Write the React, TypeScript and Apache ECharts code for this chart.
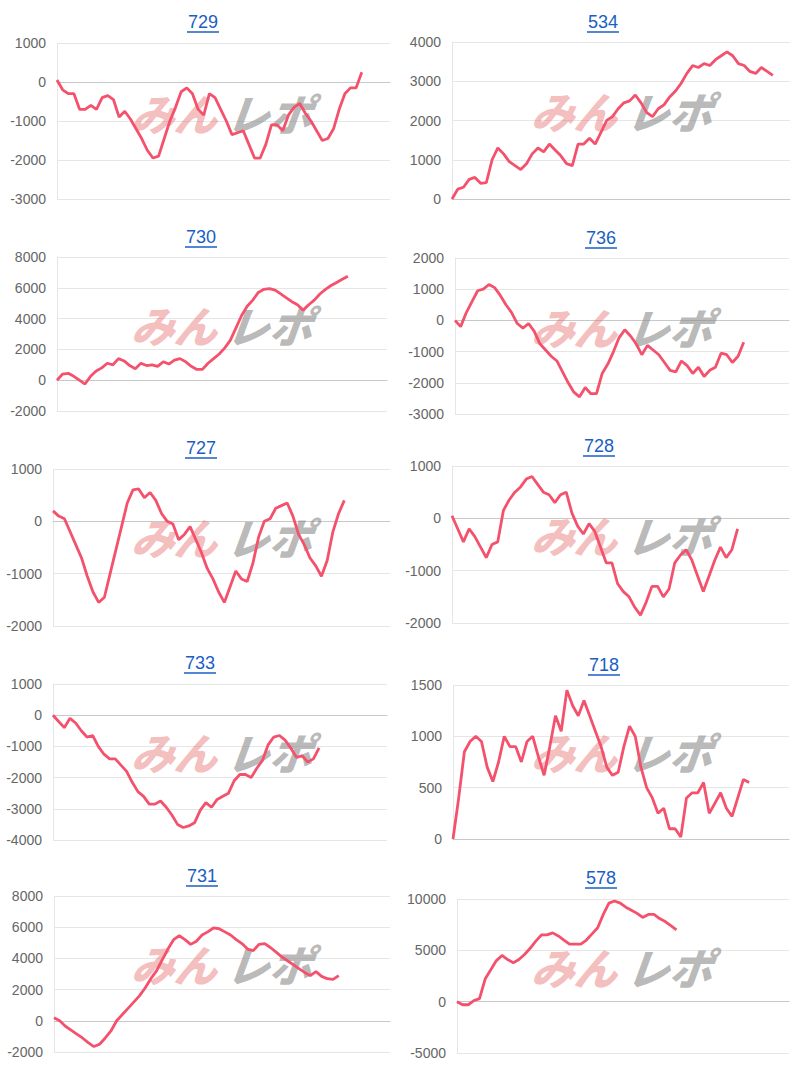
import React, { useEffect, useRef } from "react";
import * as echarts from "echarts";

// ---- data ----
const TOTAL_POINTS = 60;
const xCategories = Array.from({ length: TOTAL_POINTS }, (_, i) => `${i + 1}`);

const titles = ["729", "534", "730", "736", "727", "728", "733", "718", "731", "578"];

const s729 = [50, -200, -300, -300, -700, -700, -600, -700, -400, -350, -450, -900, -750, -950, -1200, -1450, -1750, -1950, -1900, -1450, -1000, -650, -250, -150, -300, -700, -850, -300, -400, -700, -1000, -1350, -1300, -1250, -1600, -1950, -1950, -1600, -1100, -1100, -1250, -850, -650, -550, -800, -1000, -1250, -1500, -1450, -1200, -700, -300, -150, -150, 250];
const s534 = [0, 250, 300, 500, 550, 400, 420, 1000, 1300, 1150, 950, 850, 750, 900, 1150, 1300, 1200, 1400, 1250, 1100, 900, 850, 1400, 1400, 1550, 1400, 1700, 2000, 2100, 2300, 2450, 2500, 2650, 2450, 2200, 2100, 2300, 2400, 2600, 2750, 2950, 3200, 3400, 3350, 3450, 3400, 3550, 3650, 3750, 3650, 3450, 3400, 3250, 3200, 3350, 3250, 3150];
const s730 = [0, 400, 450, 250, 0, -250, 250, 600, 800, 1100, 1000, 1400, 1250, 950, 750, 1100, 950, 1000, 900, 1200, 1050, 1300, 1400, 1200, 900, 700, 700, 1100, 1400, 1700, 2100, 2600, 3400, 4200, 4800, 5200, 5700, 5900, 5950, 5850, 5600, 5350, 5100, 4900, 4550, 4900, 5200, 5600, 5900, 6150, 6350, 6550, 6750];
const s736 = [0, -200, 250, 600, 950, 1000, 1150, 1050, 800, 500, 250, -100, -250, -100, -350, -750, -950, -1150, -1300, -1650, -2000, -2300, -2450, -2150, -2350, -2350, -1700, -1400, -1000, -550, -300, -500, -750, -1100, -800, -950, -1100, -1350, -1600, -1650, -1300, -1450, -1700, -1500, -1800, -1600, -1500, -1050, -1100, -1350, -1150, -700];
const s727 = [200, 100, 50, -200, -450, -700, -1050, -1350, -1550, -1450, -1000, -550, -100, 350, 600, 620, 450, 550, 400, 150, 0, -50, -350, -250, -100, -350, -600, -900, -1100, -1350, -1550, -1250, -950, -1100, -1150, -800, -300, 0, 50, 250, 300, 350, 100, -250, -450, -700, -850, -1050, -750, -200, 150, 400];
const s728 = [50, -200, -450, -200, -350, -550, -750, -500, -450, 150, 350, 500, 600, 750, 800, 650, 500, 450, 300, 450, 500, 100, -150, -300, -100, -250, -550, -850, -850, -1250, -1400, -1500, -1700, -1850, -1600, -1300, -1300, -1500, -1350, -850, -700, -600, -800, -1100, -1400, -1100, -800, -550, -750, -600, -200];
const s733 = [0, -200, -400, -100, -250, -500, -700, -650, -1000, -1250, -1400, -1400, -1600, -1800, -2150, -2450, -2600, -2850, -2850, -2750, -2950, -3200, -3500, -3600, -3550, -3450, -3050, -2800, -2950, -2700, -2600, -2500, -2100, -1900, -1900, -2000, -1700, -1450, -950, -700, -650, -800, -1050, -1350, -1300, -1500, -1400, -1050];
const s718 = [0, 400, 850, 950, 1000, 950, 700, 560, 750, 1000, 900, 900, 750, 950, 1000, 800, 620, 900, 1200, 1050, 1450, 1300, 1200, 1350, 1200, 1050, 900, 700, 620, 650, 900, 1100, 1000, 700, 500, 400, 250, 300, 100, 100, 20, 400, 450, 450, 550, 250, 350, 450, 300, 220, 400, 580, 550];
const s731 = [200, 0, -350, -600, -850, -1100, -1400, -1650, -1500, -1100, -650, 0, 400, 800, 1200, 1600, 2100, 2700, 3200, 3900, 4600, 5200, 5450, 5200, 4900, 5100, 5500, 5700, 5950, 5900, 5700, 5500, 5200, 4950, 4600, 4500, 4900, 4950, 4700, 4400, 4100, 3850, 3600, 3350, 3100, 2900, 3150, 2850, 2700, 2650, 2900];
const s578 = [0, -300, -300, 100, 300, 2200, 3100, 4000, 4500, 4100, 3800, 4100, 4600, 5200, 5900, 6500, 6500, 6700, 6400, 6000, 5600, 5600, 5600, 6000, 6600, 7200, 8500, 9600, 9800, 9600, 9200, 8900, 8600, 8200, 8500, 8500, 8100, 7800, 7400, 7000];

const seriesValues = [s729, s534, s730, s736, s727, s728, s733, s718, s731, s578];

// y axis ranges and tick steps
const yMins = [-3000, 0, -2000, -3000, -2000, -2000, -4000, 0, -2000, -5000];
const yMaxs = [1000, 4000, 8000, 2000, 1000, 1000, 1000, 1500, 8000, 10000];
const yIntervals = [1000, 1000, 2000, 1000, 1000, 1000, 1000, 500, 2000, 5000];

// ---- layout (pixels) ----
const layout = [
  { left: 57, right: 390, top: 43, bottom: 199, tx: 203, ty: 22, wy: 112 },
  { left: 452, right: 790, top: 42, bottom: 199, tx: 603, ty: 22, wy: 110 },
  { left: 57, right: 387, top: 257, bottom: 411, tx: 201, ty: 237, wy: 324 },
  { left: 455, right: 789, top: 258, bottom: 414, tx: 601, ty: 238, wy: 326 },
  { left: 53, right: 390, top: 469, bottom: 626, tx: 201, ty: 448, wy: 536 },
  { left: 452, right: 789, top: 466, bottom: 623, tx: 599, ty: 446, wy: 534 },
  { left: 53, right: 387, top: 684, bottom: 840, tx: 200, ty: 663, wy: 751 },
  { left: 453, right: 789, top: 685, bottom: 839, tx: 604, ty: 665, wy: 751 },
  { left: 54, right: 390, top: 896, bottom: 1052, tx: 202, ty: 876, wy: 963 },
  { left: 457, right: 789, top: 899, bottom: 1053, tx: 601, ty: 878, wy: 966 },
];

const LINE_COLOR = "#f4516c";
const TITLE_COLOR = "#1a5ec5";
const GRID_COLOR = "#e6e6e6";
const LABEL_FONT = "'Liberation Sans', Arial, Helvetica, sans-serif";

export default function App() {
  const ref = useRef<HTMLDivElement>(null);

  useEffect(() => {
    if (!ref.current) return;
    const chart = echarts.init(ref.current, undefined, { renderer: "svg" });

    const grids = layout.map((l) => ({
      left: l.left,
      top: l.top,
      width: l.right - l.left,
      height: l.bottom - l.top,
      outerBoundsMode: "none",
      containLabel: false,
    }));

    const xAxes = layout.map((_, i) => ({
      type: "category",
      gridIndex: i,
      data: xCategories,
      boundaryGap: false,
      axisLine: { show: true, onZero: true, lineStyle: { color: "#c8c8c8", width: 1 } },
      axisTick: { show: false },
      axisLabel: { show: false },
      splitLine: { show: false },
    }));

    const yAxes = layout.map((_, i) => ({
      type: "value",
      gridIndex: i,
      min: yMins[i],
      max: yMaxs[i],
      interval: yIntervals[i],
      axisLine: { show: true, lineStyle: { color: GRID_COLOR, width: 1 } },
      axisTick: { show: false },
      splitLine: { show: true, lineStyle: { color: GRID_COLOR, width: 1 } },
      axisLabel: {
        color: "#666666",
        fontSize: 14,
        fontFamily: LABEL_FONT,
        margin: 11,
        formatter: (v: number) => String(v),
      },
    }));

    const series = seriesValues.map((vals, i) => ({
      type: "line",
      xAxisIndex: i,
      yAxisIndex: i,
      data: vals,
      symbol: "none",
      smooth: false,
      z: 5,
      lineStyle: { color: LINE_COLOR, width: 2.8 },
      silent: true,
    }));

    const graphics: any[] = [];
    layout.forEach((l, i) => {
      const px = l.left < 400 ? 0 : 400;
      // watermark
      graphics.push({
        type: "text",
        x: px + 180,
        y: l.wy,
        z: 1,
        skewX: -0.35,
        silent: true,
        style: {
          text: "みん",
          fill: "rgba(232,110,110,0.45)",
          font: "900 43px 'Noto Sans CJK JP'",
          textAlign: "center",
          textVerticalAlign: "middle",
          align: "center",
          verticalAlign: "middle",
        },
      });
      graphics.push({
        type: "text",
        x: px + 275,
        y: l.wy,
        z: 1,
        skewX: -0.35,
        silent: true,
        style: {
          text: "レポ",
          fill: "rgba(140,140,140,0.6)",
          font: "900 43px 'Noto Sans CJK JP'",
          textAlign: "center",
          textVerticalAlign: "middle",
          align: "center",
          verticalAlign: "middle",
        },
      });
      // title
      graphics.push({
        type: "text",
        x: l.tx,
        y: l.ty,
        z: 10,
        style: {
          text: titles[i],
          fill: TITLE_COLOR,
          font: `18px ${LABEL_FONT}`,
          textAlign: "center",
          textVerticalAlign: "middle",
          align: "center",
          verticalAlign: "middle",
        },
      });
      graphics.push({
        type: "line",
        z: 10,
        shape: { x1: l.tx - 16, y1: l.ty + 10, x2: l.tx + 16, y2: l.ty + 10 },
        style: { stroke: TITLE_COLOR, lineWidth: 1.5 },
      });
    });

    chart.setOption({
      animation: false,
      grid: grids,
      xAxis: xAxes,
      yAxis: yAxes,
      series,
      graphic: { elements: graphics },
    } as any);

    return () => chart.dispose();
  }, []);

  return (
    <div
      ref={ref}
      style={{ position: "absolute", left: 0, top: 0, width: 800, height: 1068, background: "#fff" }}
    />
  );
}
